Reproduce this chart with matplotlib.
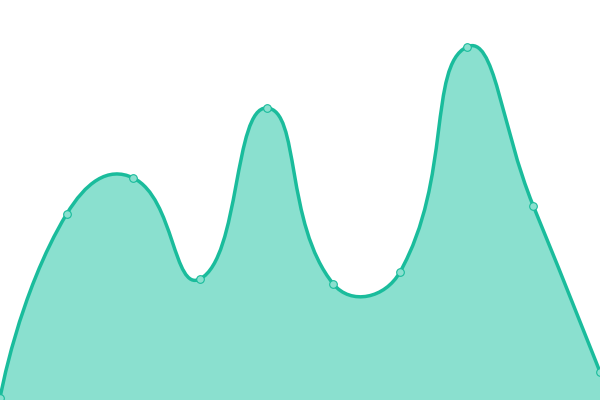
import numpy as np
import matplotlib
matplotlib.use("Agg")
import matplotlib.pyplot as plt
from matplotlib.path import Path
from matplotlib.patches import PathPatch

# values (y axis 0..400)
values = [2, 186, 222, 121, 292, 116, 128, 353, 194, 28]
y_max = 400
smooth = 0.5

line_color = "#1abc9c"
fill_color = "#8ae0cf"


def smooth_path(pts, smooth):
    """Bezier path through pts (display coords), echarts-like smoothing."""
    n = len(pts)
    verts = [pts[0]]
    codes = [Path.MOVETO]
    cp_after = pts[0].copy()
    for i in range(1, n):
        p = pts[i]
        if i < n - 1:
            prev_p, next_p = pts[i - 1], pts[i + 1]
            v = (next_p - prev_p) * smooth
            d0 = np.hypot(*(p - prev_p))
            d1 = np.hypot(*(next_p - p))
            r = d1 / (d0 + d1)
            cp_before = p - v * (1 - r)
            new_after = p + v * r
        else:
            cp_before = p.copy()
            new_after = p.copy()
        verts += [cp_after, cp_before, p]
        codes += [Path.CURVE4] * 3
        cp_after = new_after
    return np.array(verts), codes


fig = plt.figure(figsize=(6, 4), dpi=100)
ax = fig.add_axes([0, 0, 1, 1])
x = np.arange(len(values))
ax.set_xlim(0, len(values) - 1)
ax.set_ylim(0, y_max)
ax.axis("off")

disp = ax.transData.transform(np.column_stack([x, values]))
verts, codes = smooth_path(disp, smooth)
verts = ax.transData.inverted().transform(verts)

# filled area down to the baseline
base = [[x[-1], 0], [x[0], 0], [x[0], values[0]]]
fill_verts = np.vstack([verts, base])
fill_codes = codes + [Path.LINETO, Path.LINETO, Path.CLOSEPOLY]
ax.add_patch(PathPatch(Path(fill_verts, fill_codes), facecolor=fill_color,
                       edgecolor="none", zorder=1))
ax.add_patch(PathPatch(Path(verts, codes), facecolor="none",
                       edgecolor=line_color, lw=2.5, zorder=2,
                       capstyle="round", joinstyle="round"))
ax.plot(x, values, "o", ms=5.5, markerfacecolor=fill_color,
        markeredgecolor=line_color, markeredgewidth=0.8, zorder=3,
        clip_on=False)

fig.savefig("out.png", dpi=100)
